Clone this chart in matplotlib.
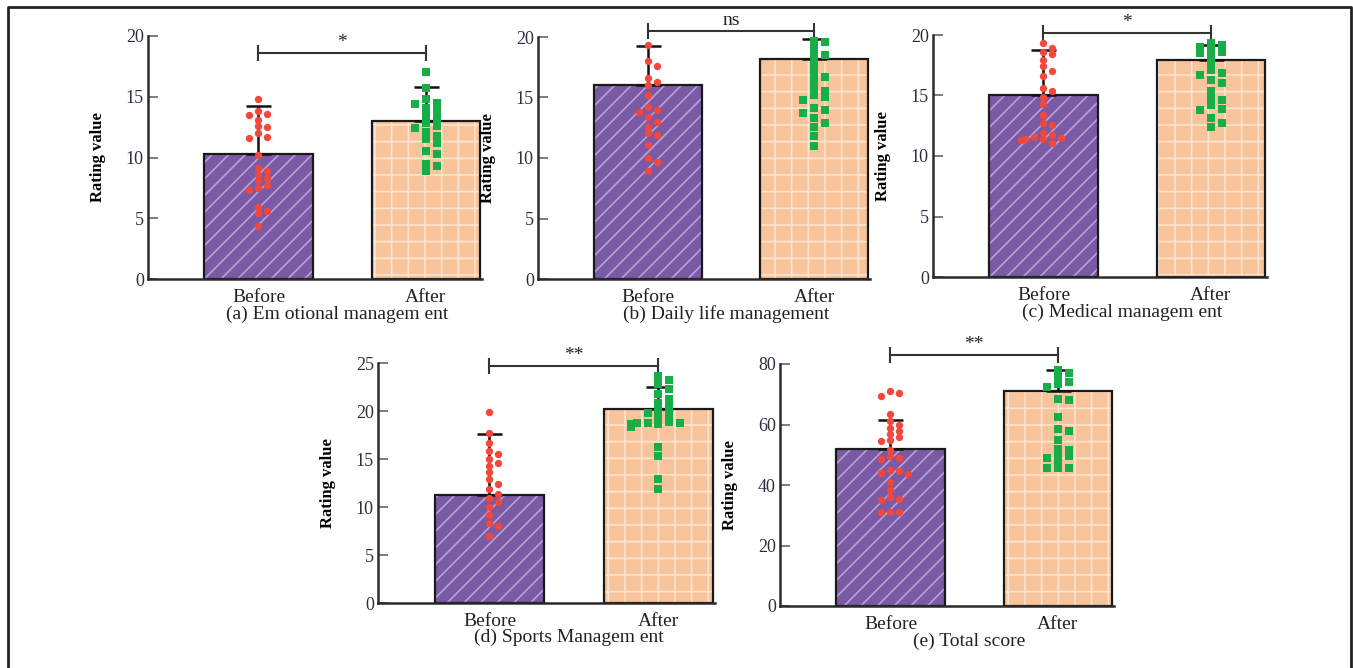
import matplotlib.pyplot as plt
import numpy as np

plt.rcParams['font.family'] = ['Liberation Serif', 'DejaVu Serif']
plt.rcParams['hatch.linewidth'] = 1.2

groups = ['Before', 'After']

# (a) Emotional management
means_a = [10.3, 13.0]
sd_a = [3.9, 2.8]
before_a = [14.8, 13.8, 13.6, 13.5, 13.1, 12.6, 12.5, 12.0, 11.7, 11.6, 10.2, 9.1,
            8.9, 8.6, 8.3, 8.1, 7.7, 7.5, 7.3, 5.9, 5.6, 5.4, 4.4]
after_a = [17.0, 15.7, 14.8, 14.5, 14.4, 14.1, 13.8, 13.4, 13.2, 12.8, 12.6, 12.4,
           12.1, 11.8, 11.5, 11.2, 10.5, 10.3, 9.5, 9.3, 8.9]

# (b) Daily life management
means_b = [16.0, 18.2]
sd_b = [3.25, 1.6]
before_b = [19.3, 18.0, 17.6, 16.6, 16.3, 16.0, 15.2, 14.2, 14.0, 13.8, 13.4, 13.0,
            12.6, 12.1, 11.9, 11.1, 10.0, 9.7, 8.9]
after_b = [19.7, 19.6, 19.2, 18.6, 18.5, 18.1, 17.5, 17.0, 16.7, 16.4, 15.7, 15.5,
           15.2, 15.0, 14.8, 14.1, 14.0, 13.7, 13.3, 12.9, 12.6, 11.8, 11.0]

# (c) Medical management
means_c = [15.0, 17.9]
sd_c = [3.8, 1.3]
before_c = [19.3, 18.9, 18.6, 18.4, 17.9, 17.4, 17.0, 16.6, 15.6, 15.4, 14.9, 14.3,
            13.4, 12.7, 12.6, 11.9, 11.7, 11.6, 11.5, 11.4, 11.4, 11.3, 11.1]
after_c = [19.3, 19.2, 19.0, 18.8, 18.6, 18.5, 18.2, 17.7, 17.1, 16.9, 16.7, 16.3,
           16.0, 15.4, 14.9, 14.6, 14.2, 13.9, 13.8, 13.1, 12.7, 12.4]

# (d) Sports Management
means_d = [11.3, 20.2]
sd_d = [6.3, 2.3]
before_d = [19.9, 17.7, 16.7, 15.8, 15.5, 15.0, 14.6, 14.3, 13.6, 12.9, 12.4, 11.9,
            11.4, 10.9, 10.5, 10.0, 9.2, 8.3, 8.0, 7.0]
after_d = [23.6, 23.2, 22.8, 22.3, 21.8, 21.2, 20.8, 20.4, 20.1, 19.8, 19.6, 19.3,
           18.9, 18.8, 18.7, 18.7, 18.6, 18.6, 18.5, 18.5, 18.4, 18.3, 16.3, 15.3,
           12.9, 11.9]

# (e) Total score
means_e = [52.0, 71.0]
sd_e = [9.5, 7.0]
before_e = [71.0, 70.5, 69.5, 63.5, 61.0, 60.0, 59.0, 58.0, 57.0, 56.0, 55.0, 54.5,
            51.5, 49.5, 49.0, 48.5, 45.0, 44.5, 44.0, 43.5, 41.0, 38.5, 36.0, 35.5,
            35.0, 31.0, 31.0, 31.0]
after_e = [78.0, 77.0, 75.5, 74.0, 73.5, 72.5, 68.5, 68.0, 62.5, 58.5, 58.0, 55.0,
           52.0, 51.5, 50.0, 49.5, 49.0, 48.0, 45.5, 45.5, 45.5]

panels = [
    ('(a) Em otional managem ent', means_a, sd_a, before_a, after_a, 20, 5, 18.6, '*',
     (148, 279, 334, 243)),
    ('(b) Daily life management', means_b, sd_b, before_b, after_b, 20, 5, 20.5, 'ns',
     (538, 279, 332, 242)),
    ('(c) Medical managem ent', means_c, sd_c, before_c, after_c, 20, 5, 20.2, '*',
     (933, 277, 334, 242)),
    ('(d) Sports Managem ent', means_d, sd_d, before_d, after_d, 25, 5, 24.7, '**',
     (378, 603, 337, 240)),
    ('(e) Total score', means_e, sd_e, before_e, after_e, 80, 20, 83.0, '**',
     (780, 606, 334, 242)),
]

W, H = 1353, 668
purple, purple_hatch = '#7A5AA5', '#B8A2D6'
orange, orange_hatch = '#F8C49B', '#FDE4D0'
red, green = '#F2473D', '#17AE4A'


def swarm(ax, vals, x0, dot_px):
    # simple beeswarm offsets in pixel space (points may overlap a little)
    order = np.argsort(vals)[::-1]
    placed = []
    xs = np.zeros(len(vals))
    p0 = ax.transData.transform((x0, 0))
    for i in order:
        py = ax.transData.transform((x0, vals[i]))[1]
        for k in [0, 1, -1, 2, -2, 3, -3, 4, -4, 5, -5]:
            px = k * dot_px * 0.9
            if all(abs(px - qx) >= dot_px or abs(py - qy) >= dot_px for qx, qy in placed):
                break
        placed.append((px, py))
        xs[i] = ax.transData.inverted().transform((p0[0] + px, p0[1]))[0]
    return xs


fig = plt.figure(figsize=(W / 100, H / 100), dpi=100)

for title, means, sds, before, after, ymax, ystep, sig_y, sig, box in panels:
    left, bottom, w, h = box
    ax = fig.add_axes([left / W, (H - bottom) / H, w / W, h / H])
    ax.set_xlim(-0.66, 1.335)
    ax.set_ylim(0, ymax)
    x = [0, 1]
    ax.bar(x, means, width=0.65, color=[purple, orange], edgecolor=[purple_hatch, orange_hatch],
           hatch=['//', '+'], linewidth=0, zorder=1)
    ax.bar(x, means, width=0.65, color='none', edgecolor='#1a1a1a', linewidth=1.6, zorder=2)
    ax.errorbar(x, means, yerr=[[0, 0], sds], fmt='none', ecolor='#111111', elinewidth=1.8,
                capsize=9, capthick=1.8, zorder=3)
    ax.scatter(swarm(ax, before, 0, 5.0), before, s=28, color=red, marker='o', linewidths=0, zorder=4)
    ax.scatter(swarm(ax, after, 1, 6.0), after, s=38, color=green, marker='s', linewidths=0, zorder=4)

    # significance bracket
    d = 7 * ymax / h
    ax.plot([0, 1], [sig_y, sig_y], color='#333333', lw=1.5, clip_on=False)
    ax.plot([0, 0], [sig_y - d, sig_y + d], color='#333333', lw=1.5, clip_on=False)
    ax.plot([1, 1], [sig_y - d, sig_y + d], color='#333333', lw=1.5, clip_on=False)
    ax.text(0.5, sig_y + 2 * ymax / h, sig, ha='center', va='bottom', fontsize=14,
            color='#222222', clip_on=False)

    for s in ['top', 'right']:
        ax.spines[s].set_visible(False)
    for s in ['left', 'bottom']:
        ax.spines[s].set_linewidth(1.8)
        ax.spines[s].set_color('#2a2a2a')
    ax.set_yticks(np.arange(0, ymax + 1, ystep))
    ax.tick_params(axis='y', direction='in', length=7, width=1.2, color='#666666',
                   labelsize=13, labelcolor='#2a3040', pad=3)
    ax.set_xticks(x)
    ax.set_xticklabels(groups)
    ax.tick_params(axis='x', length=0, labelsize=14, labelcolor='#222222', pad=7)
    ax.set_ylabel('Rating value', fontsize=12, fontweight='bold')
    ax.yaxis.set_label_coords(-0.125, 0.5)
    ax.text(0.47, -0.145, title, transform=ax.get_xaxis_transform(), ha='center',
            va='center', fontsize=14, color='#222222')

# outer frame
fx = [8 / W, 8 / W, 1351 / W, 1351 / W]
fy = [-0.01, (H - 7) / H, (H - 7) / H, -0.01]
fig.add_artist(plt.Line2D(fx, fy, color='#222222', lw=2))

fig.savefig('out.png', dpi=100)
